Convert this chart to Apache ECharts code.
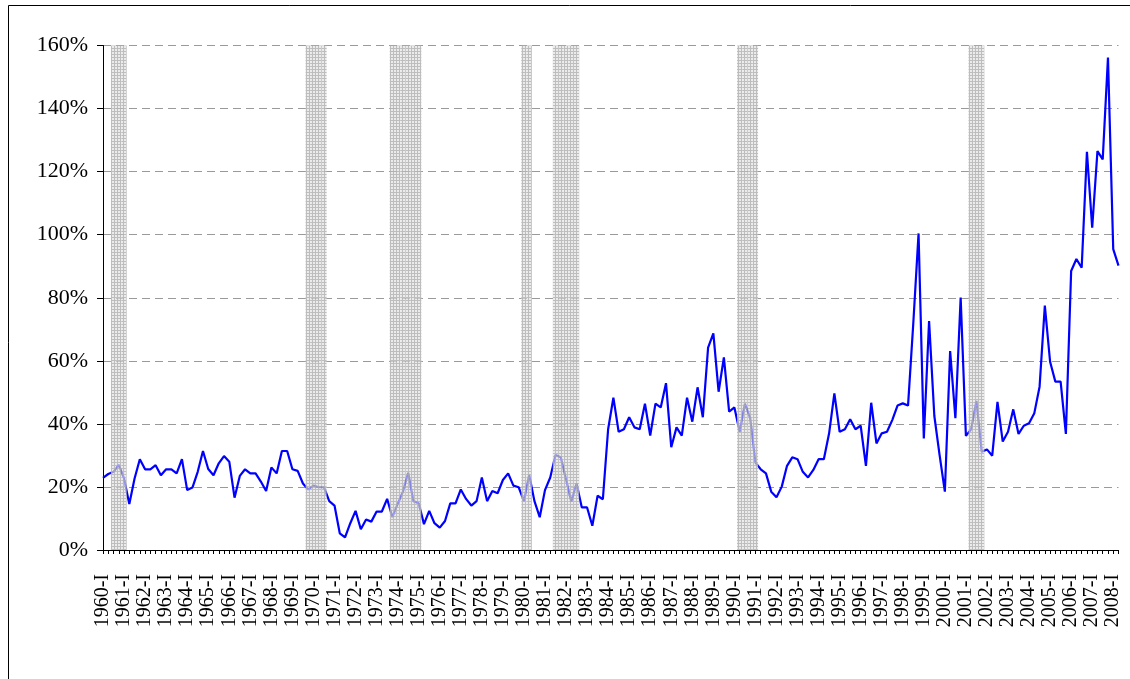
<!DOCTYPE html>
<html>
<head>
<meta charset="utf-8">
<script src="https://cdn.jsdelivr.net/npm/echarts@6/dist/echarts.min.js"></script>
<style>
html,body{margin:0;padding:0;background:#fff;}
#chart{width:1130px;height:679px;}
</style>
</head>
<body>
<div id="chart"></div>
<script>
// ---- data ----
const firstYear = 1960;
const lastYear = 2008;
const quarterNames = ['I', 'II', 'III', 'IV'];
const lastQuarterIndex = 1; // 2008-II

const values = [
  22.9, 24.1, 24.8, 27.0, 22.7, 14.6, 22.7, 28.8, 25.6, 25.6,
  26.9, 23.7, 25.6, 25.6, 24.3, 28.8, 19.0, 19.8, 24.8, 31.4,
  25.7, 23.7, 27.5, 29.8, 28.0, 16.6, 23.5, 25.6, 24.3, 24.3,
  21.7, 18.7, 26.2, 24.3, 31.4, 31.4, 25.6, 25.1, 21.1, 19.2,
  20.4, 19.9, 19.9, 15.5, 14.1, 5.3, 4.0, 8.5, 12.4, 6.6,
  9.7, 9.0, 12.2, 12.2, 16.2, 10.4, 14.6, 18.5, 24.5, 15.5,
  14.8, 8.2, 12.4, 8.5, 7.1, 9.2, 14.8, 14.8, 19.2, 16.2,
  14.1, 15.5, 23.0, 15.5, 18.7, 18.0, 22.2, 24.3, 20.4, 19.9,
  15.5, 23.8, 15.5, 10.4, 19.0, 23.0, 30.1, 29.4, 22.4, 15.3,
  21.1, 13.5, 13.5, 7.7, 17.2, 16.1, 38.3, 48.3, 37.5, 38.3,
  42.1, 38.9, 38.3, 46.4, 36.3, 46.4, 45.2, 52.9, 32.6, 38.9,
  36.3, 48.3, 40.7, 51.6, 42.1, 64.2, 68.7, 50.2, 61.1, 43.9,
  45.2, 37.5, 46.4, 41.8, 27.7, 25.6, 24.3, 18.5, 16.7, 20.1,
  26.7, 29.4, 28.8, 24.8, 23.0, 25.4, 28.8, 28.8, 37.0, 49.7,
  37.5, 38.3, 41.5, 38.3, 39.4, 26.7, 46.7, 33.8, 37.0, 37.5,
  41.2, 45.8, 46.5, 45.8, 71.9, 100.4, 35.4, 72.6, 42.5, 30.1,
  18.5, 63.1, 41.8, 80.1, 36.2, 38.3, 47.3, 31.2, 31.9, 29.9,
  47.0, 34.4, 37.5, 44.6, 36.8, 39.4, 40.2, 43.4, 51.8, 77.5,
  59.7, 53.4, 53.4, 36.8, 88.5, 92.3, 89.5, 126.3, 102.2, 126.5,
  123.9, 156.2, 95.4, 90.2
];

// recession periods (shaded), by quarter label
const recessions = [
  ['1960-III', '1961-I'],
  ['1969-IV', '1970-III'],
  ['1973-IV', '1975-I'],
  ['1980-I', '1980-II'],
  ['1981-III', '1982-III'],
  ['1990-II', '1991-I'],
  ['2001-II', '2001-IV']
];

const yTicks = [0, 20, 40, 60, 80, 100, 120, 140, 160];

// ---- build ----
const categories = [];
for (let y = firstYear; y <= lastYear; y++) {
  for (let q = 0; q < 4; q++) {
    if (y === lastYear && q > lastQuarterIndex) break;
    categories.push(y + '-' + quarterNames[q]);
  }
}
const yMax = yTicks[yTicks.length - 1];
const shade = categories.map(() => '-');
recessions.forEach(([a, b]) => {
  const s = categories.indexOf(a), e = categories.indexOf(b);
  for (let i = s; i <= e; i++) shade[i] = yMax;
});

// hatch pattern
const pc = document.createElement('canvas');
pc.width = 3; pc.height = 3;
const px = pc.getContext('2d');
px.fillStyle = 'rgba(225,225,225,0.65)';
px.fillRect(0, 0, 3, 3);
px.fillStyle = 'rgba(170,170,170,0.7)';
px.fillRect(0, 0, 3, 1);
px.fillRect(0, 1, 1, 2);

const FONT = 'Liberation Serif';
const chart = echarts.init(document.getElementById('chart'), null, {renderer: 'canvas'});
chart.setOption({
  animation: false,
  backgroundColor: '#ffffff',
  grid: {left: 103, right: 11.5, top: 45.5, bottom: 129, containLabel: false},
  xAxis: {
    type: 'category',
    data: categories,
    boundaryGap: false,
    axisLine: {show: true, onZero: true, lineStyle: {color: '#000', width: 1}},
    axisTick: {show: true, interval: 0, length: 4, lineStyle: {color: '#000', width: 1}},
    axisLabel: {
      interval: 3, rotate: 90, margin: 24,
      fontFamily: FONT, fontSize: 20, color: '#000'
    },
    splitLine: {show: false}
  },
  yAxis: {
    type: 'value',
    min: yTicks[0], max: yMax, interval: yTicks[1] - yTicks[0],
    axisLine: {show: true, lineStyle: {color: '#000', width: 1}},
    axisTick: {show: true, length: 6, lineStyle: {color: '#000', width: 1}},
    axisLabel: {
      formatter: '{value}%', margin: 15,
      fontFamily: FONT, fontSize: 22, color: '#000'
    },
    splitLine: {show: true, lineStyle: {color: '#9a9a9a', width: 1, type: [8, 5]}}
  },
  series: [
    {
      type: 'line',
      data: values,
      symbol: 'none',
      z: 2,
      lineStyle: {color: '#0000ff', width: 2.2},
      itemStyle: {color: '#0000ff'}
    },
    {
      type: 'bar',
      data: shade,
      barWidth: '100%',
      barCategoryGap: '0%',
      z: 3,
      silent: true,
      itemStyle: {color: {image: pc, repeat: 'repeat'}}
    }
  ],
  graphic: [{
    type: 'rect',
    shape: {x: 8.5, y: 5.5, width: 1200, height: 800},
    style: {fill: null, stroke: '#000', lineWidth: 1},
    silent: true,
    z: 100
  }]
});
</script>
</body>
</html>
